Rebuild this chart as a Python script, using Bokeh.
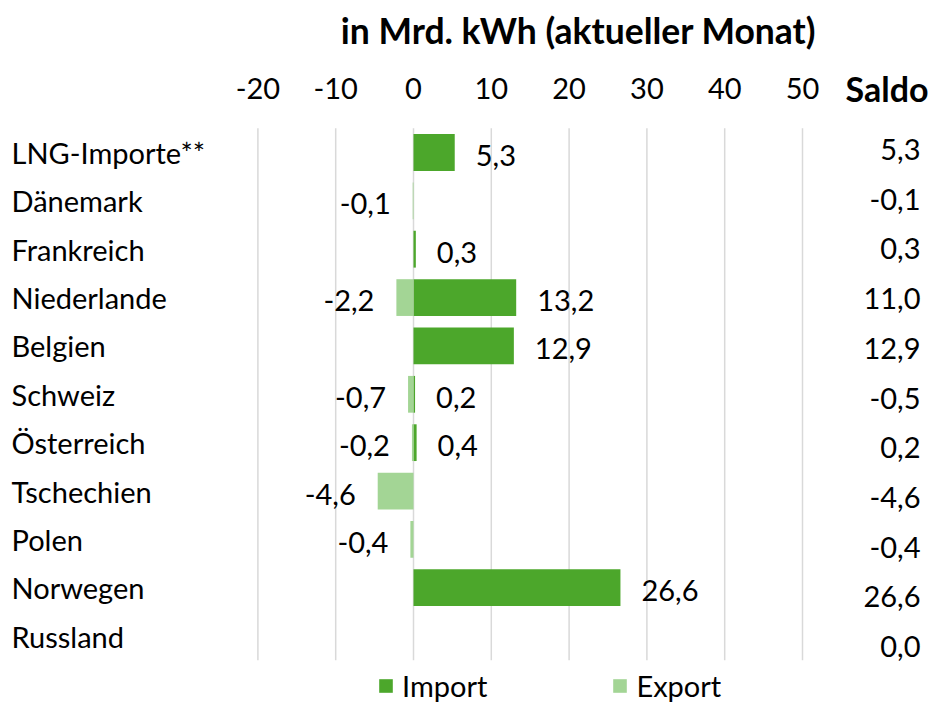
import numpy as np
from bokeh.plotting import figure
from bokeh.models import ColumnDataSource, Range1d, Legend, LegendItem
from bokeh.core.properties import value
from bokeh.embed import file_html
from bokeh.resources import INLINE

# ---- data ----
categories = ["LNG-Importe**", "Dänemark", "Frankreich", "Niederlande", "Belgien",
              "Schweiz", "Österreich", "Tschechien", "Polen", "Norwegen", "Russland"]
imports = [5.3, 0.0, 0.3, 13.2, 12.9, 0.2, 0.4, 0.0, 0.0, 26.6, 0.0]
exports = [0.0, -0.1, 0.0, -2.2, 0.0, -0.7, -0.2, -4.6, -0.4, 0.0, 0.0]
saldo = [5.3, -0.1, 0.3, 11.0, 12.9, -0.5, 0.2, -4.6, -0.4, 26.6, 0.0]
ticks = [-20, -10, 0, 10, 20, 30, 40, 50]
tick_labels = ["-20", "-10", "0", "10", "20", "30", "40", "50"]
title_text = "in Mrd. kWh (aktueller Monat)"
saldo_header = "Saldo"
series_names = ["Import", "Export"]

# ---- style / layout ----
FONT = "Lato"
FS = "29px"
FS_TITLE = "35.5px"
FS_SALDO = "34px"
IMPORT_COLOR = "#4ca72b"
EXPORT_COLOR = "#a3d595"
GRID_COLOR = "#d9d9d9"
W, H = 932, 703
PX_PER_UNIT = 7.78          # horizontal pixels per kWh unit
ZERO_PX = 413.0             # x pixel of value 0
ROW_PX = 48.36              # pixels per category row
FIRST_ROW_PX = 152.0        # y pixel of first category centre
SALDO_ROW_PX = 49.7         # the Saldo column uses its own row pitch
SALDO_FIRST_PX = 149.0
X0 = -ZERO_PX / PX_PER_UNIT
X1 = (W - ZERO_PX) / PX_PER_UNIT
Y_TOP = -FIRST_ROW_PX / ROW_PX
Y_BOT = (H - FIRST_ROW_PX) / ROW_PX
HEADER_Y = (88 - FIRST_ROW_PX) / ROW_PX
TITLE_Y = (30 - FIRST_ROW_PX) / ROW_PX
TITLE_X = (578 - ZERO_PX) / PX_PER_UNIT


def fmt(v):
    return f"{v:.1f}".replace(".", ",")


n = len(categories)
ypos = list(range(n))
saldo_y = [(SALDO_FIRST_PX + SALDO_ROW_PX * i - FIRST_ROW_PX) / ROW_PX for i in ypos]

p = figure(width=W, height=H, x_range=Range1d(X0, X1),
           y_range=Range1d(Y_BOT, Y_TOP),
           output_backend="svg", toolbar_location=None,
           x_axis_location=None, y_axis_location=None,
           min_border_left=0, min_border_right=0,
           min_border_top=0, min_border_bottom=0)
p.outline_line_color = None
p.xgrid.grid_line_color = None
p.ygrid.grid_line_color = None
p.background_fill_color = "white"
p.border_fill_color = "white"

# vertical grid lines at the tick values
p.segment(x0=ticks, x1=ticks, y0=[-0.5] * len(ticks), y1=[n - 0.5] * len(ticks),
          line_color=GRID_COLOR, line_width=1.5)

# tick labels (header row)
p.text(x=ticks, y=[HEADER_Y] * len(ticks), text=tick_labels,
       text_font=value(FONT), text_font_size=FS, text_color="black",
       text_align="center", text_baseline="middle")

src = ColumnDataSource(dict(y=ypos, imp=imports, exp=exports))
r_imp = p.hbar(y="y", left=0, right="imp", height=0.76, source=src,
               fill_color=IMPORT_COLOR, line_color=None)
r_exp = p.hbar(y="y", left="exp", right=0, height=0.76, source=src,
               fill_color=EXPORT_COLOR, line_color=None)

# category labels
p.text(x=[X0] * n, y=ypos, text=categories, x_offset=11,
       text_font=value(FONT), text_font_size=FS, text_color="black",
       text_align="left", text_baseline="middle")

# import labels
ii = [i for i, v in enumerate(imports) if v != 0]
p.text(x=[imports[i] for i in ii], y=[ypos[i] for i in ii],
       text=[fmt(imports[i]) for i in ii], x_offset=21, y_offset=3,
       text_font=value(FONT), text_font_size=FS, text_color="black",
       text_align="left", text_baseline="middle")

# export labels
ei = [i for i, v in enumerate(exports) if v != 0]
p.text(x=[exports[i] for i in ei], y=[ypos[i] for i in ei],
       text=[fmt(exports[i]) for i in ei], x_offset=-22, y_offset=3,
       text_font=value(FONT), text_font_size=FS, text_color="black",
       text_align="right", text_baseline="middle")

# saldo column
p.text(x=[X1] * n, y=saldo_y, text=[fmt(v) for v in saldo], x_offset=-12,
       text_font=value(FONT), text_font_size=FS, text_color="black",
       text_align="right", text_baseline="middle")

# header texts
p.text(x=[TITLE_X], y=[TITLE_Y], text=[title_text],
       text_font=value(FONT), text_font_size=FS_TITLE, text_font_style="bold",
       text_color="black", text_align="center", text_baseline="middle")
p.text(x=[X1], y=[HEADER_Y], text=[saldo_header], x_offset=-4,
       text_font=value(FONT), text_font_size=FS_SALDO, text_font_style="bold",
       text_color="black", text_align="right", text_baseline="middle")

legend = Legend(items=[LegendItem(label=series_names[0], renderers=[r_imp]),
                       LegendItem(label=series_names[1], renderers=[r_exp])],
                orientation="horizontal", location=(377, 0),
                label_text_font=FONT, label_text_font_size=FS,
                label_text_color="black",
                glyph_width=17, glyph_height=17, label_standoff=8,
                spacing=124, padding=0, margin=0, border_line_color=None,
                background_fill_alpha=0)
p.add_layout(legend)

open("out.html", "w").write(file_html(p, INLINE))
